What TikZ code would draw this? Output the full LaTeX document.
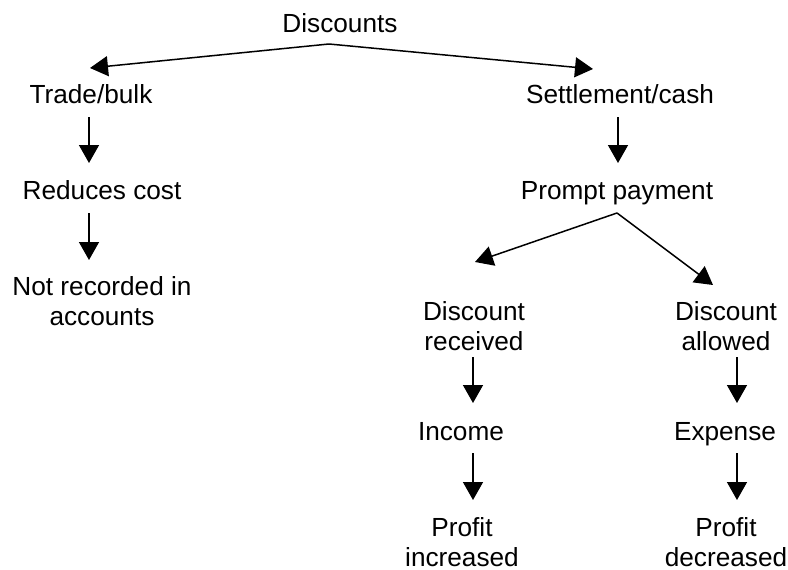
\documentclass[tikz,border=0pt]{standalone}
\usepackage{fontspec}
\setmainfont{Liberation Sans}
\usetikzlibrary{arrows.meta,calc}
\begin{document}
\begin{tikzpicture}[x=1pt,y=-1pt,
  lbl/.style={anchor=base,inner sep=0pt,align=center,font=\fontsize{26.2}{30}\selectfont},
  arr/.style={line width=1.5pt,-{Triangle[length=18pt,width=20pt]}}]
\useasboundingbox[fill=white] (0,0) rectangle (788,570);
% nodes (anchor = base of last line)
\node[lbl] (disc)    at (340,32)  {Discounts};
\node[lbl] (trade)   at (91,103)  {Trade/bulk};
\node[lbl] (settle)  at (620,103) {Settlement/cash};
\node[lbl] (reduce)  at (102,199) {Reduces cost};
\node[lbl] (notrec)  at (102,325) {Not recorded in\\accounts};
\node[lbl] (prompt)  at (617,199) {Prompt payment};
\node[lbl] (drec)    at (474,350) {Discount\\received};
\node[lbl] (dall)    at (726,350) {Discount\\allowed};
\node[lbl] (income)  at (461,440) {Income};
\node[lbl] (expense) at (725,440) {Expense};
\node[lbl] (pinc)    at (462,566) {Profit\\increased};
\node[lbl] (pdec)    at (726,566) {Profit\\decreased};
% connectors
\draw[arr] ($(disc.base)+(-11,12)$) -- ($(trade.base)+(-1,-35)$);
\draw[arr] ($(disc.base)+(-11,12)$) -- ($(settle.base)+(-27,-34)$);
\draw[arr] ($(trade.base)+(-2,14)$) -- ($(reduce.base)+(-13,-36)$);
\draw[arr] ($(reduce.base)+(-13,14)$) -- ($(notrec.base)+(-13,-65)$);
\draw[arr] ($(settle.base)+(-2,14)$) -- ($(prompt.base)+(1,-36)$);
\draw[arr] ($(prompt.base)+(0,14)$) -- ($(drec.base)+(1,-88)$);
\draw[arr] ($(prompt.base)+(0,14)$) -- ($(dall.base)+(-13,-65)$);
\draw[arr] ($(drec.base)+(-1,7)$) -- ($(income.base)+(12,-37)$);
\draw[arr] ($(income.base)+(12,13)$) -- ($(pinc.base)+(11,-66)$);
\draw[arr] ($(dall.base)+(11,7)$) -- ($(expense.base)+(12,-37)$);
\draw[arr] ($(expense.base)+(12,13)$) -- ($(pdec.base)+(11,-66)$);
\end{tikzpicture}
\end{document}
